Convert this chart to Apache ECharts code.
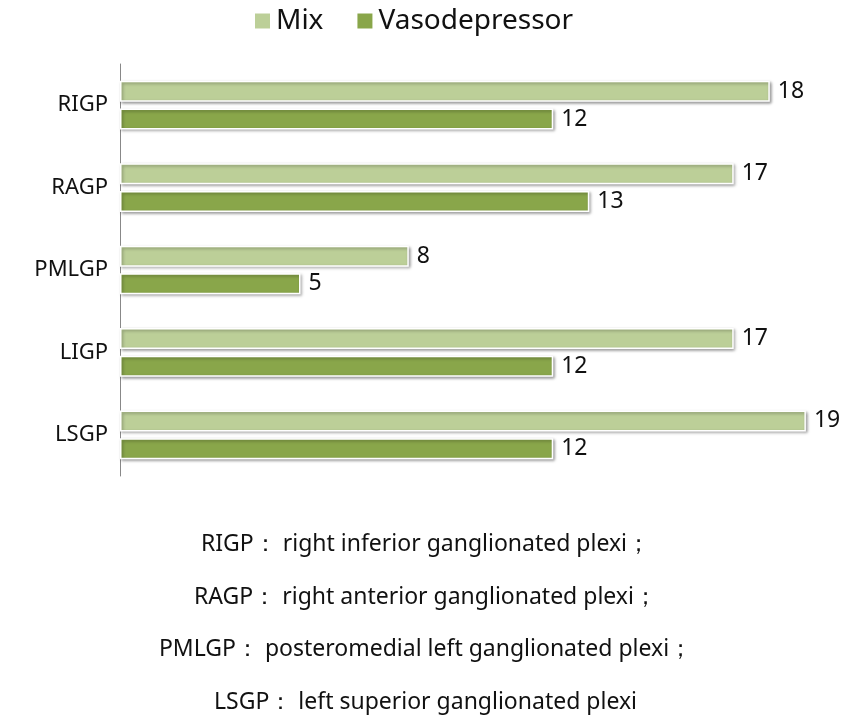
<!DOCTYPE html>
<html>
<head>
<meta charset="utf-8">
<script src="https://cdn.jsdelivr.net/npm/echarts@6/dist/echarts.min.js"></script>
<style>html,body{margin:0;padding:0;background:#fff}#c{width:851px;height:719px}</style>
</head>
<body>
<div id="c"></div>
<script>
const categories = ['RIGP', 'RAGP', 'PMLGP', 'LIGP', 'LSGP'];
const mixValues = [18, 17, 8, 17, 19];
const vasoValues = [12, 13, 5, 12, 12];
const seriesNames = ['Mix', 'Vasodepressor'];
const footnotes = [
  'RIGP\uFF1A right inferior ganglionated plexi\uFF1B',
  'RAGP\uFF1A right anterior ganglionated plexi\uFF1B',
  'PMLGP\uFF1A posteromedial left ganglionated plexi\uFF1B',
  'LSGP\uFF1A left superior ganglionated plexi'
];

const chart = echarts.init(document.getElementById('c'));
const font = 'Noto Sans, sans-serif';
const barStyle = (color) => ({
  color: color,
  borderColor: '#ffffff',
  borderWidth: 1.5,
  shadowColor: 'rgba(0,0,0,0.35)',
  shadowBlur: 3,
  shadowOffsetX: 1.5,
  shadowOffsetY: 1.5
});
const label = {
  show: true, position: 'right', distance: 8,
  color: '#111', fontSize: 23, fontFamily: font
};
chart.setOption({
  animation: false,
  legend: {
    data: seriesNames,
    top: 2, left: 248,
    itemWidth: 17, itemHeight: 17, itemGap: 32,
    icon: 'rect',
    textStyle: { fontSize: 28, color: '#111', fontFamily: font }
  },
  grid: { left: 120, right: 9, top: 64, bottom: 243, containLabel: false },
  xAxis: {
    type: 'value', min: 0, max: 20,
    show: false
  },
  yAxis: {
    type: 'category', data: categories, inverse: true,
    axisLine: { show: true, lineStyle: { color: '#888', width: 1 } },
    axisTick: { show: false },
    axisLabel: { fontSize: 22, color: '#111', fontFamily: font, margin: 12 }
  },
  series: [
    { name: seriesNames[0], type: 'bar', data: mixValues, barWidth: 21, barGap: '32%',
      itemStyle: barStyle('#bccf98'), label: label },
    { name: seriesNames[1], type: 'bar', data: vasoValues, barWidth: 21,
      itemStyle: barStyle('#89a64a'), label: label }
  ],
  graphic: footnotes.map((t, i) => ({
    type: 'text', left: 'center', top: 533 + i * 52.5,
    style: { text: t, fontSize: 23, fill: '#111', fontFamily: font }
  }))
});
</script>
</body>
</html>
